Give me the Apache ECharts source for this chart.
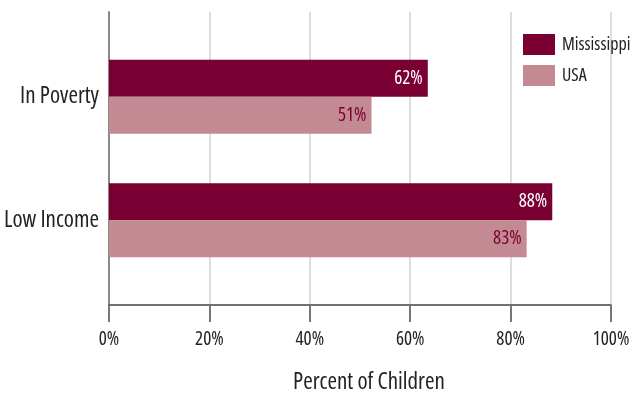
<!DOCTYPE html>
<html><head><meta charset="utf-8">
<script src="https://cdn.jsdelivr.net/npm/echarts@6/dist/echarts.min.js"></script>
<style>html,body{margin:0;padding:0;background:#fff}#c{width:634px;height:394px}</style>
</head><body><div id="c"></div>
<script>
const categories = ['In Poverty', 'Low Income'];
const seriesNames = ['Mississippi', 'USA'];
const mississippi = [63.5, 88.3];
const usa = [52.3, 83.2];
const mississippiLabels = ['62%', '88%'];
const usaLabels = ['51%', '83%'];
const xTicks = [0, 20, 40, 60, 80, 100];

const FONT = "'Open Sans', Roboto, sans-serif";
const FS = 'condensed';
const DARK = '#7a0033', LIGHT = '#c48a93';
const txt = (size, color) => ({fontFamily: FONT, fontStyle: FS, fontWeight: 500, fontSize: size, color: color});
const chart = echarts.init(document.getElementById('c'), null, {renderer: 'canvas'});
chart.setOption({
  animation: false,
  textStyle: {fontFamily: FONT, fontStyle: FS, fontWeight: 500},
  grid: [
    {left: 109, right: 23, top: 12, bottom: 89, outerBoundsMode: 'none'},
    {left: 109, right: 23, top: 35, bottom: 112, outerBoundsMode: 'none'}
  ],
  legend: {
    orient: 'vertical', left: 518, top: 29,
    itemWidth: 32, itemHeight: 21, itemGap: 10,
    icon: 'rect',
    textStyle: Object.assign(txt(18, '#222'), {padding: [0, 0, 0, 2]}),
    data: seriesNames
  },
  xAxis: [
    {gridIndex: 0, type: 'value', min: xTicks[0], max: xTicks[xTicks.length - 1], interval: 20,
     axisLine: {show: true, lineStyle: {color: '#444', width: 1.5}},
     axisTick: {show: true, length: 17, lineStyle: {color: '#777', width: 2}},
     splitLine: {show: true, lineStyle: {color: '#ddd', width: 2}},
     axisLabel: Object.assign(txt(19, '#222'), {formatter: v => v + '%', margin: 25}),
     name: 'Percent of Children', nameLocation: 'middle', nameGap: 66,
     nameTextStyle: Object.assign(txt(23, '#222'), {padding: [0, 0, 0, 18]})},
    {gridIndex: 1, type: 'value', min: 0, max: 100, show: false}
  ],
  yAxis: [
    {gridIndex: 0, type: 'category', data: categories, inverse: true,
     axisLine: {show: true, lineStyle: {color: '#888', width: 2}},
     axisTick: {show: false}, axisLabel: {show: false}, splitLine: {show: false}},
    {gridIndex: 1, type: 'category', data: categories, inverse: true,
     axisLine: {show: false}, axisTick: {show: false},
     axisLabel: Object.assign(txt(23, '#222'), {margin: 10})}
  ],
  series: [
    {name: seriesNames[0], type: 'bar', xAxisIndex: 1, yAxisIndex: 1, data: mississippi,
     barWidth: 37, barGap: '0%', itemStyle: {color: DARK},
     label: Object.assign(txt(19, '#fff'), {show: true, position: 'insideRight', distance: 5,
       formatter: p => mississippiLabels[p.dataIndex]})},
    {name: seriesNames[1], type: 'bar', xAxisIndex: 1, yAxisIndex: 1, data: usa,
     barWidth: 37, barGap: '0%', itemStyle: {color: LIGHT},
     label: Object.assign(txt(19, DARK), {show: true, position: 'insideRight', distance: 5,
       formatter: p => usaLabels[p.dataIndex]})}
  ]
});
</script></body></html>
